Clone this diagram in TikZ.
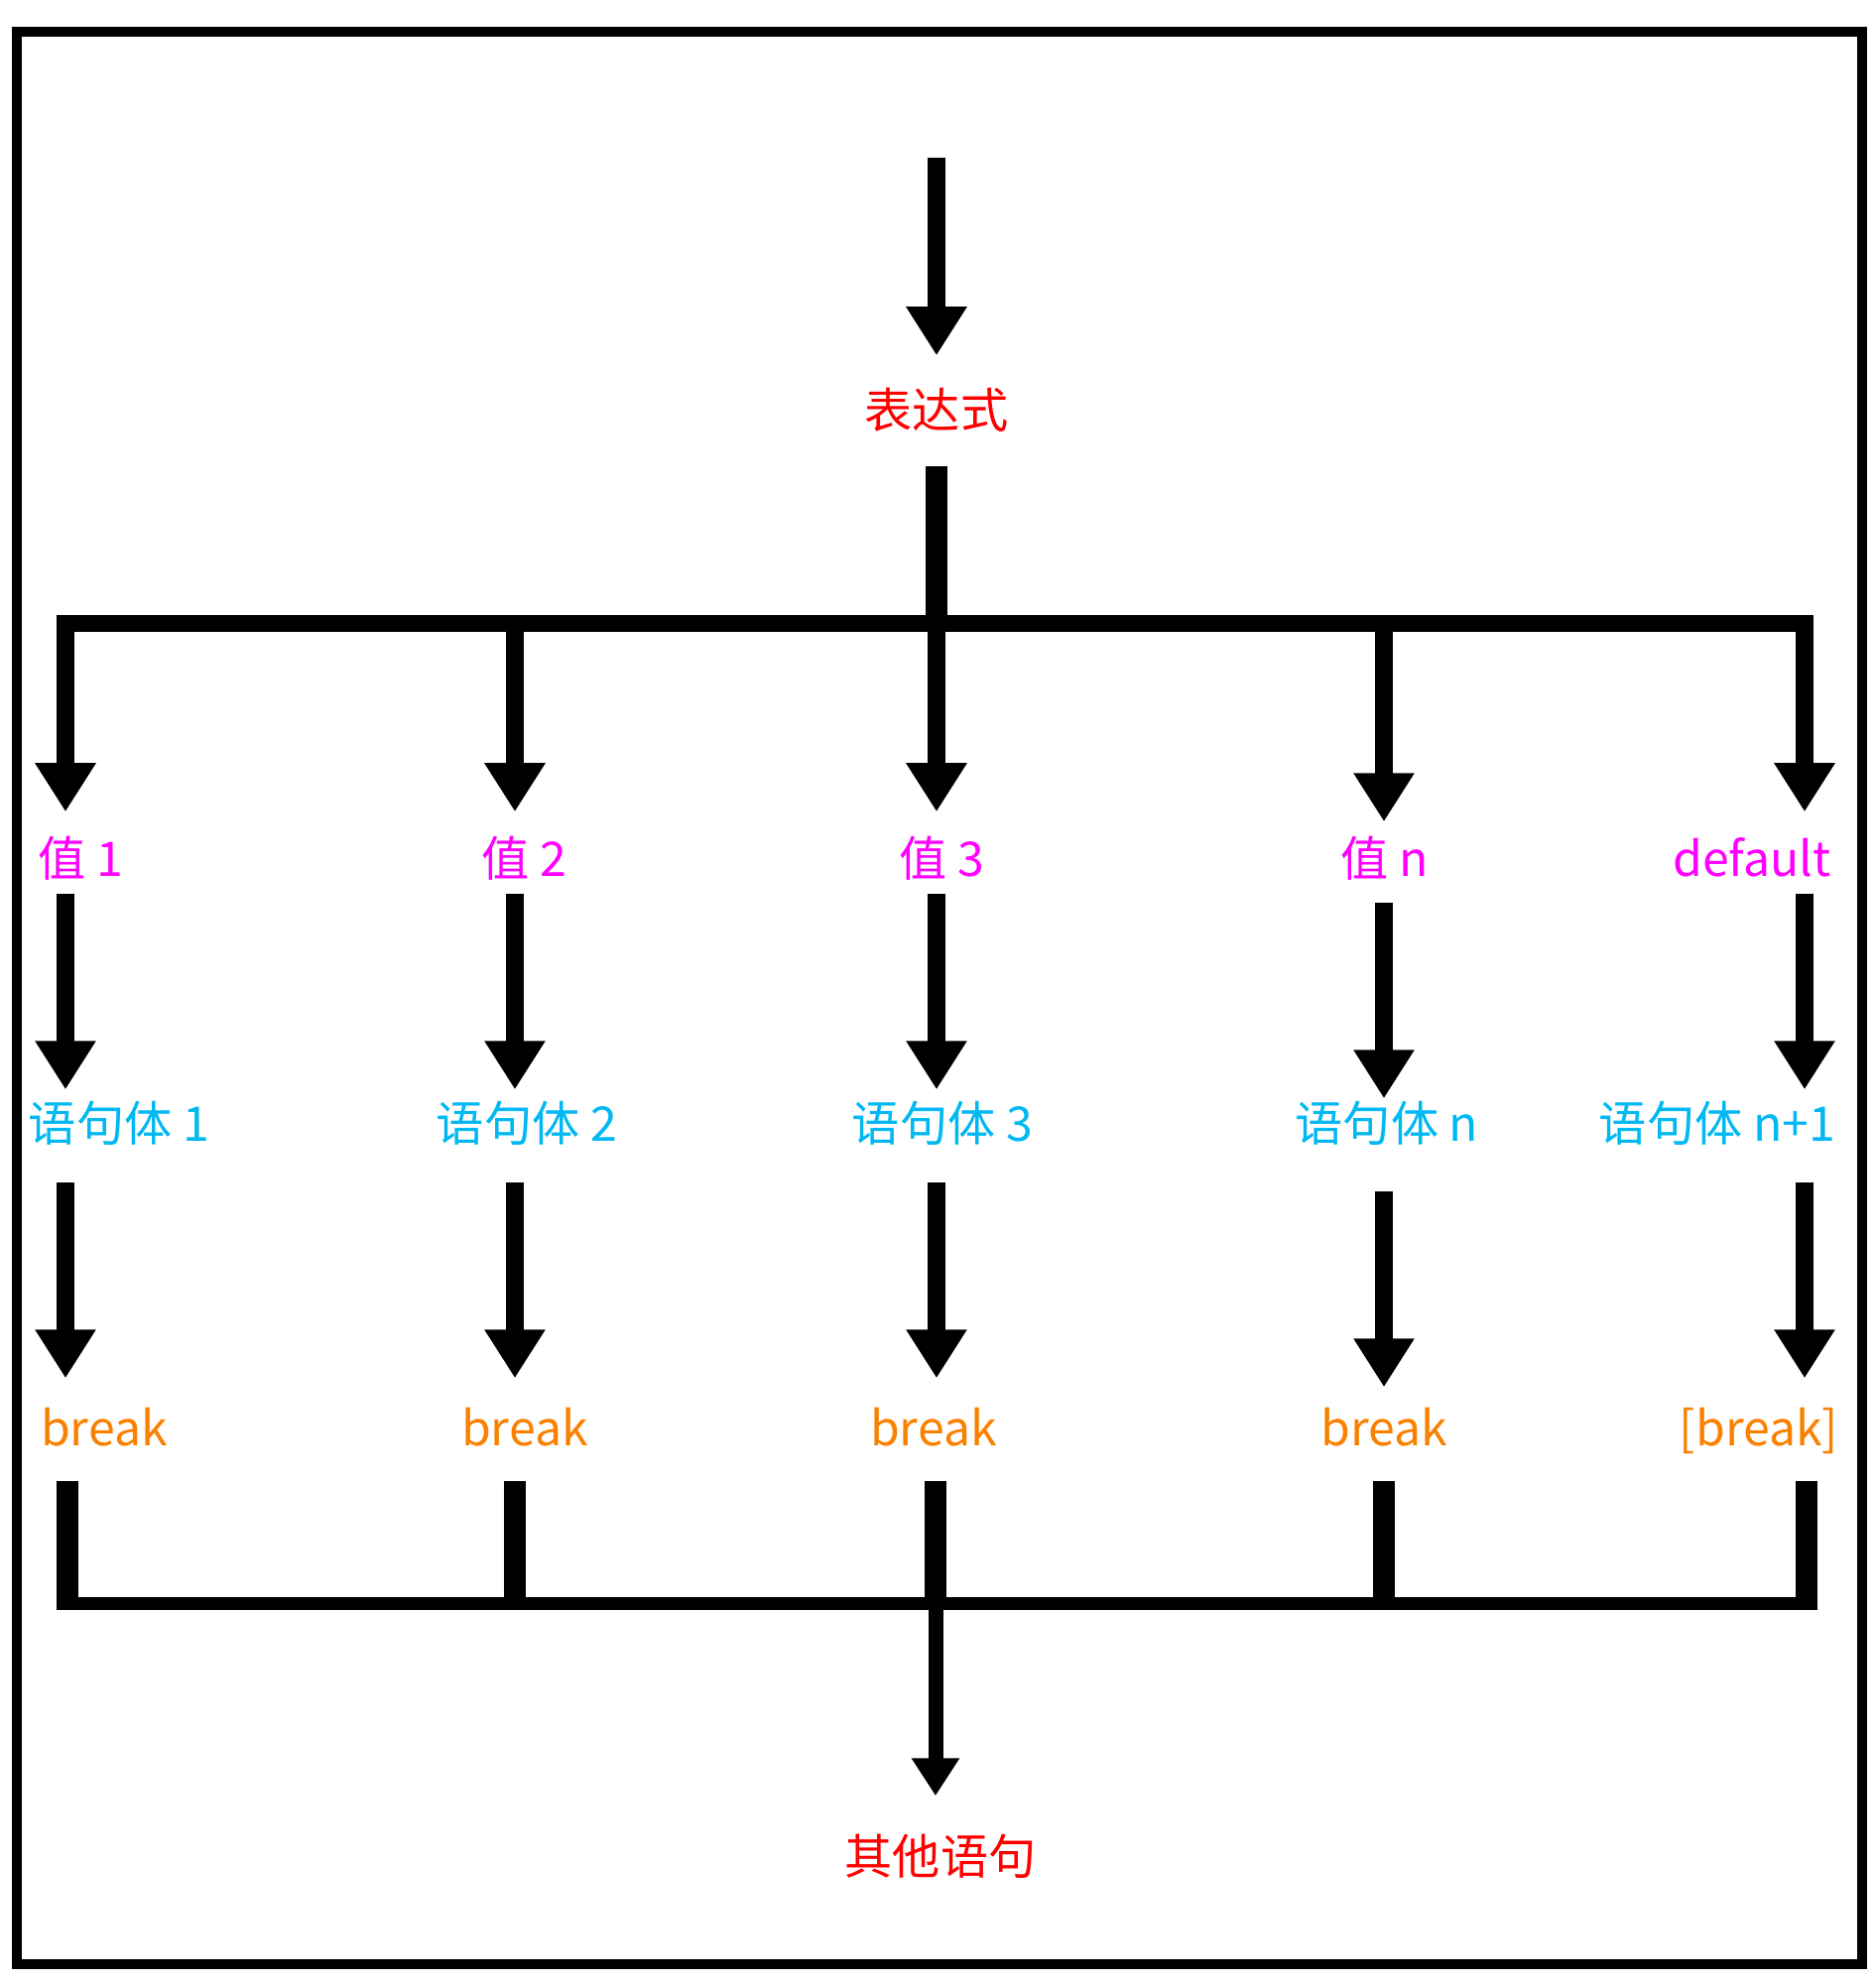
\documentclass[tikz,border=0pt]{standalone}
\usepackage{fontspec}
\setmainfont{Noto Sans CJK SC}
\usepackage{tikz}
\usetikzlibrary{arrows.meta}
\definecolor{exprRed}{RGB}{255,0,0}
\definecolor{caseMag}{RGB}{255,0,255}
\definecolor{bodyBlue}{RGB}{0,184,242}
\definecolor{brkOrange}{RGB}{250,128,0}

\begin{document}
\begin{tikzpicture}[
  x=0.01cm, y=-0.01cm,
  font=\fontsize{13.7pt}{16pt}\selectfont,
  %% Text label (1-arg: colour)
  lbl/.style={
    inner sep=0pt,
    text height=0.42cm,
    text depth=0.06cm,
    text=#1
  },
  %% Thick black flow arrow
  flow/.style={
    line width=0.18cm,
    -{Triangle[width=0.58cm,length=0.49cm]}
  },
  %% Horizontal bus line (1-arg: width)
  bus/.style={line width=#1, line cap=rect},
  stub/.style={line width=0.22cm}
]
\useasboundingbox (0,0) rectangle (1890,2000);

%% ---- Frame ----
\draw[line width=0.1cm] (17,32) rectangle (1877,1980);

%% ---- Switch expression ----
\coordinate (entry) at (944,159);
\node[lbl=exprRed] (expr) at (944,413) {表达式};

%% ---- Bus points ----
\coordinate (t1) at (66,628);
\coordinate (t2) at (519,628);
\coordinate (t3) at (944,628);
\coordinate (t4) at (1395,628);
\coordinate (t5) at (1819,628);

\coordinate (b1) at (68,1616);
\coordinate (b2) at (519,1616);
\coordinate (b3) at (943,1616);
\coordinate (b4) at (1395,1616);
\coordinate (b5) at (1821,1616);

%% ---- Case values ----
\node[lbl=caseMag] (v1) at (81,865)   {值 1};
\node[lbl=caseMag] (v2) at (528,865)  {值 2};
\node[lbl=caseMag] (v3) at (949,865)  {值 3};
\node[lbl=caseMag] (v4) at (1396,865) {值 n};
\node[lbl=caseMag] (v5) at (1766,865) {default};

%% ---- Statement bodies ----
\node[lbl=bodyBlue] (s1) at (120,1132)  {语句体 1};
\node[lbl=bodyBlue] (s2) at (531,1132)  {语句体 2};
\node[lbl=bodyBlue] (s3) at (950,1132)  {语句体 3};
\node[lbl=bodyBlue] (s4) at (1398,1132) {语句体 n};
\node[lbl=bodyBlue] (s5) at (1731,1132) {语句体 n+1};

%% ---- Breaks ----
\node[lbl=brkOrange] (k1) at (105,1439)  {break};
\node[lbl=brkOrange] (k2) at (529,1439)  {break};
\node[lbl=brkOrange] (k3) at (941,1439)  {break};
\node[lbl=brkOrange] (k4) at (1395,1439) {break};
\node[lbl=brkOrange] (k5) at (1773,1439) {[break]};

\node[lbl=exprRed] (other) at (948,1871) {其他语句};

%% ---- Entry and top bus ----
\draw[flow, shorten >=0.30cm] (entry) -- (expr);
\draw[line width=0.22cm, shorten <=0.32cm] (expr) -- (t3);
\draw[bus=0.17cm] (t1) -- (t5);

%% ---- Column arrows ----
\draw[flow, shorten >=0.22cm] (t1) -- (v1.north -| t1);
\draw[flow, shorten >=0.22cm] (t2) -- (v2.north -| t2);
\draw[flow, shorten >=0.22cm] (t3) -- (v3.north -| t3);
\draw[flow, shorten >=0.12cm] (t4) -- (v4.north -| t4);
\draw[flow, shorten >=0.22cm] (t5) -- (v5.north -| t5);

\draw[flow, shorten <=0.11cm, shorten >=0.09cm] (v1.south -| t1) -- (s1.north -| t1);
\draw[flow, shorten <=0.11cm, shorten >=0.09cm] (v2.south -| t2) -- (s2.north -| t2);
\draw[flow, shorten <=0.11cm, shorten >=0.09cm] (v3.south -| t3) -- (s3.north -| t3);
\draw[flow, shorten <=0.20cm, shorten >=0.00cm] (v4.south -| t4) -- (s4.north -| t4);
\draw[flow, shorten <=0.11cm, shorten >=0.09cm] (v5.south -| t5) -- (s5.north -| t5);

\draw[flow, shorten <=0.35cm, shorten >=0.25cm] (s1.south -| t1) -- (k1.north -| t1);
\draw[flow, shorten <=0.35cm, shorten >=0.25cm] (s2.south -| t2) -- (k2.north -| t2);
\draw[flow, shorten <=0.35cm, shorten >=0.25cm] (s3.south -| t3) -- (k3.north -| t3);
\draw[flow, shorten <=0.44cm, shorten >=0.16cm] (s4.south -| t4) -- (k4.north -| t4);
\draw[flow, shorten <=0.35cm, shorten >=0.25cm] (s5.south -| t5) -- (k5.north -| t5);

%% ---- Break stubs and bottom bus ----
\draw[stub, shorten <=0.29cm, shorten >=-0.065cm] (k1.south -| b1) -- (b1);
\draw[stub, shorten <=0.29cm, shorten >=-0.065cm] (k2.south -| b2) -- (b2);
\draw[stub, shorten <=0.29cm, shorten >=-0.065cm] (k3.south -| b3) -- (b3);
\draw[stub, shorten <=0.29cm, shorten >=-0.065cm] (k4.south -| b4) -- (b4);
\draw[stub, shorten <=0.29cm, shorten >=-0.065cm] (k5.south -| b5) -- (b5);
\draw[bus=0.13cm] (b1) -- (b5);

%% ---- Exit arrow ----
\draw[line width=0.15cm, -{Triangle[width=0.46cm,length=0.38cm]}, shorten >=0.36cm]
  (b3) -- (other.north -| b3);

\end{tikzpicture}
\end{document}
